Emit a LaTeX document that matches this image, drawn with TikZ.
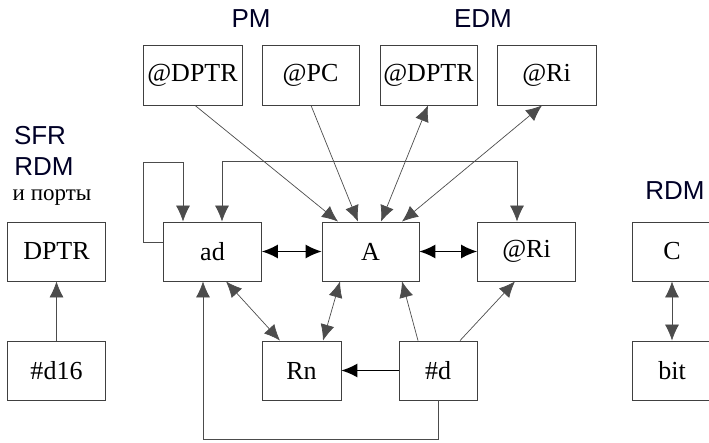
\documentclass[tikz,border=0pt]{standalone}
\usepackage{fontspec}
\setmainfont{Liberation Serif}
\newfontfamily\memfont{Liberation Sans}
\usetikzlibrary{arrows.meta}
\tikzset{
  cell/.style={draw=black!75, line width=0.8pt, minimum height=59pt, minimum width=98pt, font=\fontsize{26}{28}\selectfont},
  mem/.style={font=\memfont\fontsize{26}{28}\selectfont, text=black!85!blue},
  lite/.style={draw=black!70, line width=0.7pt},
  bold/.style={draw=black, line width=1.3pt},
  tipa/.tip={Latex[length=16pt,width=14pt]},
  fwd/.style={-tipa},
  both/.style={tipa-tipa}
}

\begin{document}
\begin{tikzpicture}[x=1pt,y=-1pt]
                \tikzstyle{every node}+=[inner sep=0pt]
                \useasboundingbox (0,0) rectangle (709,443);
                \clip (0,0) rectangle (709,443);
                % labels
                \node [mem] (pm) at (251,19) {PM};
                \node [mem] (edm) at (483,19) {EDM};
                \node [mem] (sfr) at (40,136) {SFR};
                \node [mem] (rdml) at (44,167) {RDM};
                \node [font=\fontsize{23}{25}\selectfont] (ports) at (52,198) {и порты};
                \node [mem] (rdmr) at (675,191) {RDM};
                % top row
                \node [cell, minimum height=60pt, minimum width=99pt] (pmdptr) at (192.5,75) {@DPTR};
                \node [cell, minimum height=60pt, minimum width=97pt] (pmpc) at (310.5,75) {@PC};
                \node [cell, minimum height=60pt, minimum width=97pt] (edmdptr) at (428.5,75) {@DPTR};
                \node [cell, minimum height=60pt, minimum width=99pt] (edmri) at (546.5,75) {@Ri};
                % middle row
                \node [cell] (dptr) at (56.5,251.5) {DPTR};
                \node [cell] (ad) at (212.5,251.5) {ad};
                \node [cell, minimum width=97pt] (a) at (370.5,251.5) {A};
                \node [cell] (ri) at (526.5,251.5) {@Ri};
                \node [cell, minimum width=80pt] (c) at (672,251.5) {C};
                % bottom row
                \node [cell] (d16) at (56.5,370.5) {\#d16};
                \node [cell, minimum width=79pt] (rn) at (301.5,370.5) {Rn};
                \node [cell, minimum width=78pt] (d) at (438,370.5) {\#d};
                \node [cell, minimum width=80pt] (bit) at (672,370.5) {bit};
                \coordinate (loopc) at (143,162);
                % connectors
                \draw [lite, fwd] ([xshift=2.5pt]pmdptr.south) -- ([xshift=-32.5pt]a.north);
                \draw [lite, fwd] ([xshift=0.5pt]pmpc.south) -- ([xshift=-12.5pt]a.north);
                \draw [lite, both] ([xshift=10.5pt]a.north) -- ([xshift=-0.5pt]edmdptr.south);
                \draw [lite, both] ([xshift=31.5pt]a.north) -- ([xshift=-4.5pt]edmri.south);
                \draw [lite, both] ([xshift=9.5pt]ad.north) -- ++(0,-60) -| ([xshift=-9.5pt]ri.north);
                \draw [lite, fwd] ([yshift=9.5pt]ad.west) -| (loopc) -| ([xshift=-29.5pt]ad.north);
                \draw [bold, both] (ad.east) -- (a.west);
                \draw [bold, both] (a.east) -- (ri.west);
                \draw [lite, both] ([xshift=13.5pt]ad.south) -- ([xshift=-21.5pt]rn.north);
                \draw [lite, both] ([xshift=-30.5pt]a.south) -- ([xshift=21.5pt]rn.north);
                \draw [lite, fwd] ([xshift=-20pt]d.north) -- ([xshift=31.5pt]a.south);
                \draw [lite, fwd] ([xshift=22pt]d.north) -- ([xshift=-11.5pt]ri.south);
                \draw [bold, fwd] (d.west) -- (rn.east);
                \draw [lite, fwd] (d.south) -- ++(0,39) -| ([xshift=-9.5pt]ad.south);
                \draw [lite, fwd] (d16.north) -- (dptr.south);
                \draw [lite, both] (c.south) -- (bit.north);
\end{tikzpicture}
\end{document}
